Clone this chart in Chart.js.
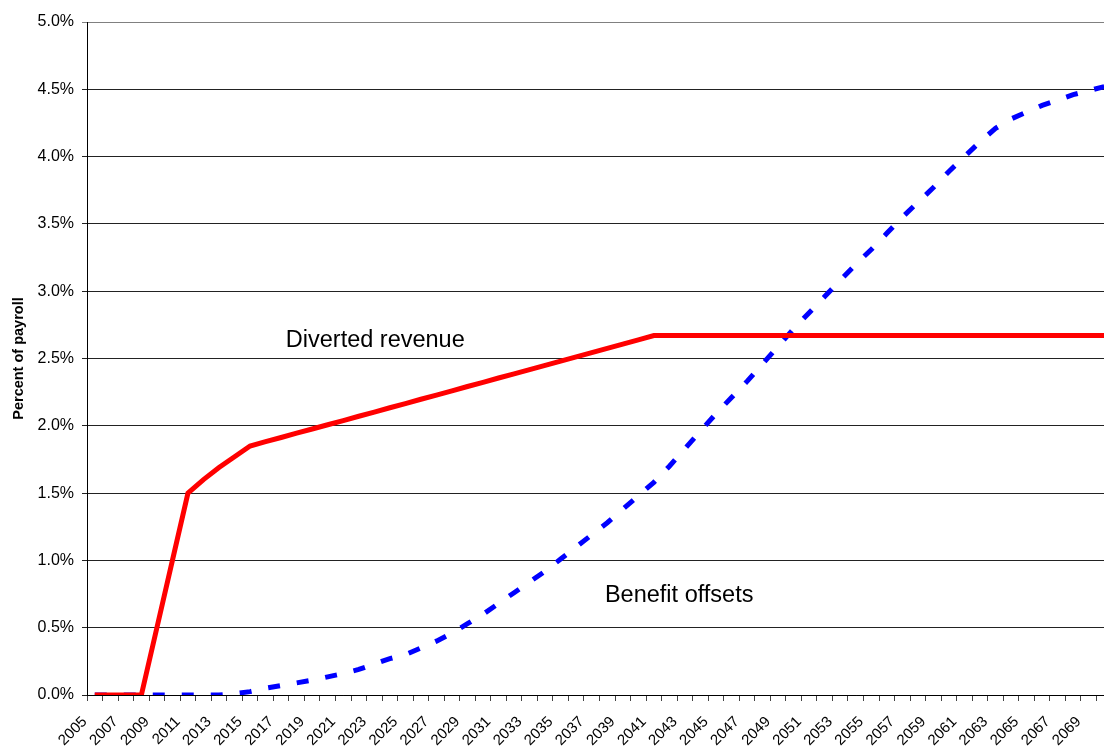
<!DOCTYPE html>
<html>
<head>
<meta charset="utf-8">
<script src="https://cdn.jsdelivr.net/npm/chart.js@4/dist/chart.umd.min.js"></script>
<style>
  html, body { margin: 0; padding: 0; background: #fff; overflow: hidden; }
  #wrap { width: 1112px; height: 749px; }
</style>
</head>
<body>
<div id="wrap"><canvas id="chart" width="1112" height="749"></canvas></div>
<script>
var years = [];
for (var y = 2005; y <= 2070; y++) years.push(String(y));

// Percent of payroll
var divertedRevenue = [
  0, 0, 0, 0, 0.5, 1.0, 1.5, 1.6, 1.69, 1.77,
  1.85, 1.882, 1.913, 1.945, 1.976, 2.008, 2.039, 2.071, 2.102, 2.134,
  2.165, 2.197, 2.228, 2.26, 2.292, 2.323, 2.355, 2.386, 2.418, 2.449,
  2.481, 2.512, 2.544, 2.575, 2.607, 2.638, 2.67, 2.67, 2.67, 2.67,
  2.67, 2.67, 2.67, 2.67, 2.67, 2.67, 2.67, 2.67, 2.67, 2.67,
  2.67, 2.67, 2.67, 2.67, 2.67, 2.67, 2.67, 2.67, 2.67, 2.67,
  2.67, 2.67, 2.67, 2.67, 2.67, 2.67
];
var benefitOffsets = [
  0, 0, 0, 0, 0, 0, 0, 0, 0, 0.01,
  0.025, 0.05, 0.07, 0.09, 0.11, 0.135, 0.16, 0.19, 0.23, 0.27,
  0.30, 0.35, 0.40, 0.46, 0.53, 0.60, 0.68, 0.76, 0.84, 0.92,
  1.01, 1.10, 1.19, 1.28, 1.38, 1.48, 1.58, 1.70, 1.83, 1.96,
  2.09, 2.21, 2.33, 2.46, 2.59, 2.72, 2.84, 2.96, 3.08, 3.20,
  3.31, 3.43, 3.55, 3.66, 3.77, 3.89, 4.00, 4.11, 4.21, 4.28,
  4.33, 4.38, 4.42, 4.46, 4.49, 4.52
];

// text labels placed in data coordinates (category index, percent)
var notes = [
  { text: "Diverted revenue", x: 12.3, y: 2.63 },
  { text: "Benefit offsets", x: 32.85, y: 0.74 }
];

var notePlugin = {
  id: "notes",
  afterDatasetsDraw: function (chart) {
    var ctx = chart.ctx;
    var xs = chart.scales.x, ys = chart.scales.y;
    ctx.save();
    ctx.font = "23.5px 'Liberation Sans', Arial, sans-serif";
    ctx.fillStyle = "#000";
    ctx.textAlign = "left";
    ctx.textBaseline = "middle";
    notes.forEach(function (n) {
      ctx.fillText(n.text, xs.getPixelForValue(n.x), ys.getPixelForValue(n.y));
    });
    ctx.restore();
  }
};

var ctx = document.getElementById("chart").getContext("2d");
new Chart(ctx, {
  type: "line",
  data: {
    labels: years,
    datasets: [
      {
        label: "Diverted revenue",
        data: divertedRevenue,
        borderColor: "#ff0000",
        borderWidth: 5,
        pointRadius: 0,
        tension: 0
      },
      {
        label: "Benefit offsets",
        data: benefitOffsets,
        borderColor: "#0000ff",
        borderWidth: 5,
        borderDash: [12, 17],
        pointRadius: 0,
        tension: 0
      }
    ]
  },
  options: {
    responsive: false,
    animation: false,
    layout: { padding: { top: 22, right: 0, left: 0, bottom: 0 } },
    plugins: { legend: { display: false }, tooltip: { enabled: false } },
    scales: {
      x: {
        offset: true,
        grid: { display: true, drawOnChartArea: false, drawTicks: true, tickLength: 6, offset: true, color: "#444" },
        border: { color: "#000", width: 1 },
        ticks: {
          autoSkip: false,
          maxRotation: 45,
          minRotation: 45,
          padding: 12,
          labelOffset: -10,
          color: "#000",
          font: { family: "'Liberation Sans', Arial, sans-serif", size: 15 },
          callback: function (v, i) { return i % 2 === 0 ? years[i] : ""; }
        },
        afterFit: function (s) {
          s.height = 54;
          s.paddingLeft = 0;
          s.paddingRight = 0;
        }
      },
      y: {
        min: 0,
        max: 5,
        grid: {
          color: function (c) { return c.tick && c.tick.value === 5 ? "#808080" : "#222"; },
          lineWidth: 1,
          tickLength: 5
        },
        border: { color: "#000", width: 1 },
        ticks: {
          stepSize: 0.5,
          padding: 8,
          color: "#000",
          font: { family: "'Liberation Sans', Arial, sans-serif", size: 16 },
          callback: function (v) { return v.toFixed(1) + "%"; }
        },
        title: {
          display: true,
          text: "Percent of payroll",
          color: "#000",
          padding: { top: 10, bottom: 0 },
          font: { family: "'Liberation Sans', Arial, sans-serif", size: 14.5, weight: "bold" }
        },
        afterFit: function (s) { s.width = 87; }
      }
    }
  },
  plugins: [notePlugin]
});
</script>
</body>
</html>
